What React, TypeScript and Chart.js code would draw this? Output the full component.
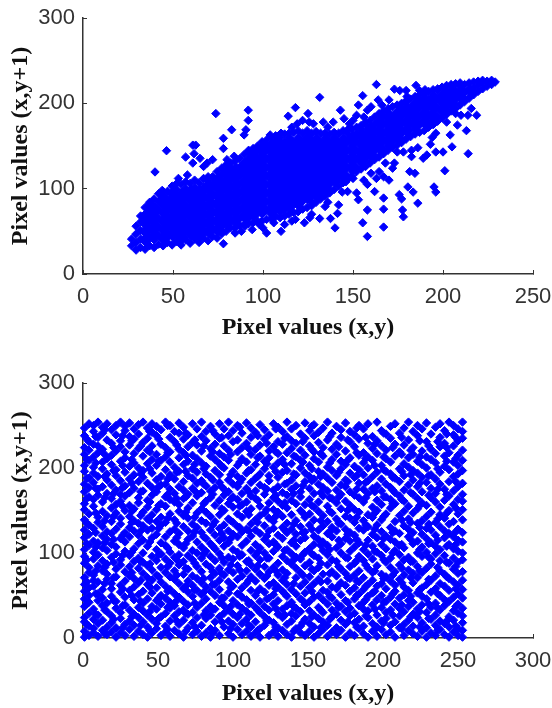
import React, { useEffect, useRef } from "react";
import { Chart, registerables } from "chart.js";

Chart.register(...registerables);

const xTicksTop = [0, 50, 100, 150, 200, 250];
const xTicksBottom = [0, 50, 100, 150, 200, 250, 300];
const yTicks = [0, 100, 200, 300];
const xLabel = "Pixel values (x,y)";
const yLabel = "Pixel values (x,y+1)";

// Correlated image: dense band read column by column (x, [y...])
const bandColumns: [number, number[]][] = [
[27,[33,41]],[29.5,[28,37,47,56]],[32,[31,41,51,61,68]],[34.5,[29,38,48,58,68,78]],[37,[33,43,53,63,73,82]],
[39.5,[31,40,50,60,70,80,88]],[42,[35,45,55,65,75,85,94]],[44.5,[33,42,52,62,72,82,92,97]],[47,[37,47,57,67,77,87,97]],
[49.5,[34,44,54,64,74,84,94,103]],[52,[38,49,59,69,79,89,99,106]],[54.5,[34,45,55,65,75,85,95,105]],[57,[40,50,60,70,80,90,100,108]],
[59.5,[36,46,56,66,76,86,96,106]],[62,[41,51,61,71,81,91,101,110]],[64.5,[37,47,57,67,77,87,97,107]],[67,[42,52,62,72,82,92,102,112]],
[69.5,[39,49,59,69,79,89,99,109,114]],[72,[44,54,64,74,84,94,104,114]],[74.5,[42,50,60,70,80,90,100,110,120]],[77,[47,56,66,76,86,96,106,116,124]],
[79.5,[50,60,70,80,90,100,110,120,128]],[82,[54,65,75,85,95,105,115,125,130]],[84.5,[54,60,70,80,90,100,110,120,132]],[87,[57,65,75,85,95,105,115,125,135]],
[89.5,[58,70,80,90,100,110,120,130,140]],[92,[59,65,75,85,95,105,115,125,135,143]],[94.5,[60,70,80,90,100,110,120,130,140,147]],[97,[62,75,85,95,105,115,125,135,145,150]],
[99.5,[62,70,80,90,100,110,120,130,140,150,155]],[102,[64,75,85,95,105,115,125,135,145,157]],[104.5,[65,70,80,90,100,110,120,130,140,150,160]],[107,[67,75,85,95,105,115,125,135,145,155,162]],
[109.5,[66,72,80,90,100,110,120,130,140,150,160]],[112,[68,75,85,95,105,115,125,135,145,155,164]],[114.5,[70,80,90,100,110,120,130,140,150,160,165]],[117,[72,85,95,105,115,125,135,145,155,166]],
[119.5,[73,80,90,100,110,120,130,140,150,160,168]],[122,[76,85,95,105,115,125,135,145,155,165]],[124.5,[78,90,100,110,120,130,140,150,160,168]],[127,[80,85,95,105,115,125,135,145,155,165]],
[129.5,[84,90,100,110,120,130,140,150,160,167]],[132,[88,95,105,115,125,135,145,155,165]],[134.5,[91,100,110,120,130,140,150,160,165]],[137,[95,105,115,125,135,145,155,164]],
[139.5,[99,110,120,130,140,150,160,166]],[142,[103,115,125,135,145,155,165]],[144.5,[107,120,130,140,150,160,168]],[147,[111,125,135,145,155,165,169]],
[149.5,[115,120,130,140,150,160,170]],[152,[120,125,135,145,155,165,172]],[154.5,[123,130,140,150,160,170,174]],[157,[126,135,145,155,165,175,178]],
[159.5,[130,140,150,160,170,180]],[162,[134,145,155,165,175,184]],[164.5,[137,150,160,170,180,188]],[167,[141,145,155,165,175,185,191]],
[169.5,[145,150,160,170,180,190,194]],[172,[148,155,165,175,185,196]],[174.5,[151,160,170,180,190,198]],[177,[154,165,175,185,195,200]],
[179.5,[158,170,180,190,200,203]],[182,[161,175,185,195,205]],[184.5,[164,170,180,190,200,208]],[187,[166,175,185,195,205,210]],
[189.5,[168,180,190,200,210,213]],[192,[172,185,195,205,214]],[194.5,[175,180,190,200,210,216]],[197,[179,185,195,205,215,217]],
[199.5,[183,190,200,210,219]],[202,[187,195,205,215,221]],[204.5,[191,200,210,220,222]],[207,[194,205,215,223]],
[209.5,[198,210,220,224]],[212,[202,213,222]],[214.5,[206,216,224]],[217,[210,218,225]],[219.5,[214,221,226]],[222,[217,224,227]],[224.5,[220,226]],[227,[222,227]],[229,[225]],
];

// Where overlapping marks merge into a solid mass inside the band
const bandCore: [number, number[]][] = [
[35,[40,50,60,68]],[40,[45,55,65,75]],[45,[42,52,62,72,82,88]],[50,[47,57,67,77,87,94]],[55,[43,53,63,73,83,93]],
[60,[48,58,68,78,88,96]],[65,[46,56,66,76,86,96]],[70,[50,60,70,80,90,100,104]],[75,[52,62,72,82,92,102,110]],
[80,[60,70,80,90,100,110,118]],[85,[64,74,84,94,104,114,122]],[90,[68,78,88,98,108,118,128]],[95,[70,80,90,100,110,120,130,137]],
[100,[75,85,95,105,115,125,135,145]],[105,[75,85,95,105,115,125,135,145,150]],[110,[80,90,100,110,120,130,140,150]],
[115,[80,90,100,110,120,130,140,150,155]],[120,[85,95,105,115,125,135,145,155]],[125,[90,100,110,120,130,140,150,158]],
[130,[95,105,115,125,135,145,155]],[135,[100,110,120,130,140,150,155]],[140,[110,120,130,140,150,156]],[145,[115,125,135,145,155]],
[150,[125,135,145,155,160]],[155,[133,143,153,163]],[160,[140,150,160,170]],[165,[147,157,167,177]],[170,[155,165,175,184]],
[175,[160,170,180,188]],[180,[168,178,188,193]],[185,[174,184,194,198]],[190,[178,188,198,203]],[195,[185,195,205]],
[200,[192,202,209]],[205,[200,210,213]],[210,[207,214]],[215,[215]],
];

const outliersAbove: [number, number][] = [
[73.8,188],[91.8,192],[91.8,180],[90.5,169],[89.5,163],[82.6,169],[78,159],[78,147],[46.4,144.5],[40,119.6],
[61,151],[62.6,151],[61.7,141],[57,137],[61,130],[65,135.5],[69,130],[72,134],[80,134],[92,145],[95,145],[98,145],
[104,163],[110,165],[118,195],[114,185],[125,188],[131.5,207],[125.7,178],[119,176],[133.5,178],[143,192],[153,198],
[155.4,209],[163,222],[173,216.6],[170,204],[179.5,215],[185,221],[187,215],[164,204],[158,192],[176,215],[139,178],
[145,182],[150,180],[160,196],[166,198],[44,98],[37,84],[36,78],[53,112],[58,116],[67,126],[128,176],[136,172],[148,176],
[152,186],[156,184],[180,208],[190,216],[84,138],[102,152],[108,158],[116,172],[122,180],
];
const outliersBelow: [number, number][] = [
[78,35.5],[102,48],[110,50],[84.5,48],[123,60],[140,54],[137.5,65],[141.4,71],[131.5,65],[142,81],[134.5,79],
[155.4,60],[158,44],[167,55],[158,75],[167,76],[177.5,75],[178,67],[167,89],[175.7,93],[177,88],[186,83],[183.4,96],
[180.5,102],[195,102],[196,96],[201,121],[158,105],[153,87],[152,95],[147,96.6],[181.5,120],[184.4,118],[170,110],
[167,114],[162,96.6],[164.5,120],[168,130],[214,141],[213,168],[205,149],[204,163],[200,143],[196,143],[191,139.5],
[189,135.6],[196,165],[218.7,186],[215.7,194],[213.8,186],[207,188],[208,174.5],[182.5,145],[182.5,137.5],[174.6,143],
[90,56],[94,52],[98,58],[106,60],[112,58],[116,62],[127,70],[146,108],[150,112],[160,118],[163,112],[173,130],[178,143],[193,152],
[88,50],[100,54],[118,64],[126,66],[136,84],[144,96],[156,110],[172,124],[186,148],[194,160],[202,178],[210,186],
];

// Scrambled image: scatter read column by column (x, [y...])
const noiseColumns: [number, number[]][] = [
[1,[1,8,19,24,37,46,55,63,71,88,96,104,118,127,139,151,158,172,181,196,203,216,224,238,247]],
[4,[3,14,29,42,50,59,77,83,109,122,133,146,166,177,188,209,221,231,252]],
[7,[6,11,22,34,61,68,74,93,101,114,129,155,163,183,194,201,213,228,243,250]],
[10,[2,17,27,44,52,66,85,98,112,136,142,168,175,190,218,226,236,254]],
[13,[9,21,38,47,57,79,91,106,120,131,149,160,178,199,207,222,241,248]],
[16,[4,13,31,41,69,75,87,103,116,125,144,170,186,193,211,233,252]],
[19,[7,18,26,49,58,64,95,110,123,137,153,164,180,204,215,229,245]],
[22,[1,12,35,43,72,81,99,107,128,147,157,174,191,198,220,239,250]],
[25,[6,23,30,54,62,86,92,117,134,141,161,169,185,208,225,232,254]],
[28,[3,16,39,48,67,78,102,113,124,150,167,179,195,212,219,244,249]],
[31,[10,20,33,56,73,84,97,119,130,143,156,171,187,202,227,237,253]],
[34,[2,15,28,45,60,70,90,105,126,138,152,176,192,206,217,234,246]],
[37,[8,24,36,51,65,82,94,111,121,135,159,165,184,200,223,240,251]],
[40,[4,19,32,41,55,76,89,100,115,132,148,173,189,197,214,230,254]],
[43,[1,13,27,46,63,71,85,108,127,140,154,162,182,205,221,235,247]],
[46,[6,22,37,53,68,80,96,118,129,145,168,177,194,210,226,242,252]],
[49,[11,17,34,44,59,74,91,104,122,137,151,172,186,203,216,238,249]],
[52,[3,25,40,50,66,83,99,112,133,142,158,180,190,209,228,245]],
[55,[7,14,29,47,61,77,93,109,119,136,155,166,181,198,213,224,254]],
[58,[2,20,35,42,57,72,88,101,125,146,163,175,192,207,219,236,250]],
[61,[9,26,38,52,69,79,95,114,128,139,160,170,187,201,231,243]],
[64,[5,16,31,48,64,86,98,110,123,149,157,178,196,212,222,241,253]],
[67,[1,21,33,43,58,75,90,106,131,144,164,174,184,204,218,234,248]],
[70,[12,28,39,54,67,81,97,116,126,141,153,169,191,208,225,239]],
[73,[4,18,30,49,62,73,92,103,120,134,159,176,188,199,215,230,252]],
[76,[8,24,36,56,70,84,100,113,130,147,167,182,195,211,227,246]],
[79,[2,15,41,51,65,78,94,107,124,138,152,171,185,206,220,237,254]],
[82,[6,23,32,46,60,87,102,117,135,148,161,179,193,202,232,243]],
[85,[1,11,27,37,55,71,83,96,111,127,143,165,173,189,214,223,249]],
[88,[9,19,34,50,63,76,91,105,121,137,156,177,197,210,228,240]],
[91,[3,25,42,57,68,82,99,115,129,145,162,183,192,205,217,235,252]],
[94,[13,29,38,47,74,89,108,118,133,150,168,175,200,213,226,246]],
[97,[5,20,33,53,66,80,95,112,126,140,158,172,186,209,221,238,254]],
[100,[1,16,28,44,61,77,93,104,122,136,154,166,181,196,231,244]],
[103,[10,24,39,52,69,85,101,119,131,146,163,178,190,203,219,233,250]],
[106,[4,17,35,48,59,73,98,109,125,142,157,170,187,211,224,241]],
[109,[8,22,31,45,64,79,90,114,128,149,160,176,194,207,229,253]],
[112,[2,13,27,41,56,72,86,103,120,134,152,167,183,198,216,236,247]],
[115,[6,19,36,50,67,81,97,110,127,139,164,173,188,204,222,242]],
[118,[1,11,30,43,58,75,92,106,123,144,155,180,193,214,227,251]],
[121,[15,25,37,54,70,84,100,116,132,147,169,177,199,208,234,245]],
[124,[3,21,33,47,62,78,94,111,126,141,159,185,191,212,220,239]],
[127,[7,18,40,51,65,83,102,113,129,137,151,165,174,201,225,252]],
[130,[2,12,28,44,60,74,88,107,121,148,161,178,189,206,217,231,248]],
[133,[9,24,34,55,68,80,96,117,130,143,156,171,195,210,228,243]],
[136,[4,16,38,49,63,76,91,104,124,135,153,168,182,197,218,237,254]],
[139,[1,20,29,42,57,87,99,112,128,145,162,175,186,205,223,232,246]],
[142,[11,26,35,52,71,82,95,108,122,138,158,179,192,213,229,250]],
[145,[6,14,31,46,61,77,93,115,131,150,166,172,200,209,221,240]],
[148,[3,22,39,53,66,85,101,118,125,142,157,184,194,215,235,253]],
[151,[8,17,32,43,59,72,89,105,133,146,163,176,190,203,226,244]],
[154,[1,13,27,48,64,79,97,110,120,139,154,170,187,211,219,238,251]],
[157,[5,23,36,50,69,83,94,116,127,149,160,181,196,207,230,242]],
[160,[10,19,30,45,56,75,103,113,132,144,167,177,193,214,224,247]],
[163,[2,15,40,54,67,86,98,109,123,137,155,173,188,201,233,254]],
[166,[7,25,33,47,60,78,92,119,130,147,164,183,197,210,222,241]],
[169,[4,12,28,41,58,73,90,106,126,140,159,174,191,216,228,249]],
[172,[9,21,37,51,65,81,100,111,134,152,169,180,199,208,236,245]],
[175,[1,16,31,44,62,76,95,117,128,143,161,178,186,204,220,253]],
[178,[6,26,35,55,70,84,102,114,124,141,156,172,194,212,231,243]],
[181,[3,18,29,46,59,74,88,107,121,136,151,168,189,202,225,239]],
[184,[11,22,38,52,66,79,96,112,129,148,165,182,198,215,234,250]],
[187,[5,14,34,42,57,71,91,104,127,138,160,175,192,206,218,246]],
[190,[1,24,32,49,63,82,99,115,131,145,170,185,200,213,229,252]],
[193,[8,17,39,53,68,77,93,108,122,142,154,176,190,209,223,237]],
[196,[2,13,27,45,61,85,101,118,133,150,162,179,195,217,232,254]],
[199,[10,20,36,50,64,75,97,110,125,139,157,173,187,203,226,244]],
[202,[4,23,30,43,58,72,89,105,120,146,166,181,196,211,221,240]],
[205,[7,15,33,48,67,83,94,116,130,153,163,177,193,207,235,249]],
[208,[1,19,40,55,62,78,103,113,126,137,158,171,188,214,228,252]],
[211,[12,26,35,47,69,86,98,109,123,144,167,184,199,219,241]],
[214,[3,16,31,51,60,74,92,106,132,149,161,174,191,205,227,247]],
[217,[9,21,37,44,56,80,95,119,128,140,155,180,201,212,233,254]],
[220,[5,14,28,42,65,76,90,111,124,147,169,186,197,216,224,243]],
[223,[2,24,34,53,71,84,100,114,135,152,164,178,194,208,238,250]],
[226,[8,18,39,49,59,77,96,107,122,138,159,172,189,204,220,246]],
[229,[1,12,30,46,63,82,101,117,129,143,156,183,200,213,231,253]],
[232,[6,22,36,54,68,87,93,112,127,148,165,176,192,210,222,240]],
[235,[3,15,27,41,58,73,99,108,121,136,160,170,187,206,217,248]],
[238,[10,20,33,50,64,79,91,104,131,145,154,181,195,225,236,252]],
[241,[4,17,38,45,61,75,97,118,126,141,162,175,202,214,229,244]],
[244,[1,13,25,43,56,70,88,110,123,134,150,167,184,198,218,254]],
[247,[7,21,32,48,66,81,94,105,119,137,157,173,190,207,226,239,250]],
[250,[3,11,29,40,52,62,76,89,102,115,128,146,163,178,193,203,215,232,246]],
[253,[1,9,18,26,35,47,57,68,78,92,100,113,124,139,151,161,169,182,197,209,221,235,243,254]],
];

// More scatter between the columns above
const noiseExtra: [number, number[]][] = [
[2.5,[16,40,66,92,111,135,164,188,210,234]],[8.5,[28,52,79,107,124,147,176,206,237]],[14.5,[5,33,64,83,112,138,165,190,216,245]],
[20.5,[22,44,71,89,116,143,170,197,224]],[26.5,[12,38,58,97,121,155,177,203,238]],[32.5,[25,50,77,101,136,149,182,210,232]],
[38.5,[15,43,68,90,126,144,172,193,226]],[44.5,[9,31,60,87,113,138,160,199,219,243]],[50.5,[23,47,72,98,129,156,178,208,234]],
[56.5,[10,36,55,84,106,141,169,187,218,250]],[62.5,[20,44,74,92,118,135,164,195,227]],[68.5,[8,29,61,82,111,148,166,196,215,241]],
[74.5,[13,41,57,88,125,142,173,204,233]],[80.5,[27,54,70,99,119,158,181,199,226]],[86.5,[6,34,63,78,108,133,169,186,219,244]],
[92.5,[19,47,76,94,123,152,178,202,236]],[98.5,[11,37,59,86,117,138,163,192,216]],[104.5,[28,51,80,96,130,155,183,207,248]],
[110.5,[15,40,68,91,126,145,172,197,223]],[116.5,[9,33,55,85,101,136,162,190,212,238]],[122.5,[20,46,73,94,120,151,175,205,229]],
[128.5,[13,35,58,79,110,143,168,196,219,246]],[134.5,[27,52,71,103,127,159,181,204,235]],[140.5,[8,37,64,92,115,134,170,193,214]],
[146.5,[18,44,74,98,124,147,179,207,231]],[152.5,[25,55,81,99,128,156,185,199,222,249]],[158.5,[12,33,66,88,109,138,171,190,217]],
[164.5,[22,49,76,104,125,149,165,206,237]],[170.5,[8,36,62,84,115,135,166,195,225]],[176.5,[19,42,71,94,122,150,184,209,233]],
[182.5,[13,50,67,91,116,142,175,191,218,247]],[188.5,[26,45,61,86,109,133,165,183,211,236]],[194.5,[10,34,55,79,102,128,147,172,203,228]],
[200.5,[18,42,70,92,117,143,166,198,213,241]],[206.5,[27,52,74,100,124,158,174,189,224]],[212.5,[11,39,65,82,110,139,163,196,216,236]],
[218.5,[25,49,71,90,116,136,171,192,221]],[224.5,[13,31,57,79,104,130,156,182,213,232]],[230.5,[23,40,69,95,111,134,168,191,226]],
[236.5,[9,35,52,83,115,140,175,199,231]],[242.5,[20,43,72,89,108,147,169,208,224,240]],[248.5,[14,37,58,84,110,125,153,184,211,236]],
];

const fromColumns = (cols: [number, number[]][]) =>
  cols.flatMap(([x, ys]) => ys.map((y) => ({ x, y })));
const fromPairs = (pairs: [number, number][]) => pairs.map(([x, y]) => ({ x, y }));

const BLUE = "#0000ff";
const AXIS = "#333333";
const TICK_FONT = { family: "'Liberation Sans', sans-serif", size: 22 };
const TITLE_FONT = { family: "'Liberation Serif', serif", size: 24, weight: "bold" as const };

const markerDataset = (data: { x: number; y: number }[], radius: number) => ({
  data,
  pointStyle: "rectRot",
  pointRadius: radius,
  pointBorderWidth: 1,
  backgroundColor: BLUE,
  borderColor: BLUE,
  clip: false as const,
});

function makeConfig(
  datasets: ReturnType<typeof markerDataset>[],
  xTicks: number[],
  top: number,
  bottomSpace: number,
  titleBottom: number
) {
  const xMax = xTicks[xTicks.length - 1];
  return {
    type: "scatter" as const,
    data: { datasets },
    options: {
      animation: false as const,
      responsive: false,
      events: [],
      layout: { padding: { top, right: 19, left: 0, bottom: 0 } },
      plugins: { legend: { display: false }, tooltip: { enabled: false } },
      scales: {
        x: {
          type: "linear" as const,
          min: 0,
          max: xMax,
          afterBuildTicks: (s: any) => { s.ticks = xTicks.map((value) => ({ value })); },
          afterFit: (s: any) => { s.height = bottomSpace; s.paddingLeft = 0; s.paddingRight = 0; },
          border: { display: true, color: AXIS, width: 1.5 },
          grid: { drawOnChartArea: false, color: AXIS, lineWidth: 1, tickLength: -4 },
          ticks: { color: AXIS, font: TICK_FONT, padding: 14, maxRotation: 0, autoSkip: false },
          title: { display: true, text: xLabel, color: "#111", font: TITLE_FONT, padding: { top: 0, bottom: titleBottom } },
        },
        y: {
          type: "linear" as const,
          min: 0,
          max: 300,
          afterBuildTicks: (s: any) => { s.ticks = yTicks.map((value) => ({ value })); },
          afterFit: (s: any) => { s.width = 83; s.paddingTop = 0; s.paddingBottom = 0; },
          border: { display: true, color: AXIS, width: 1.5 },
          grid: { drawOnChartArea: false, color: AXIS, lineWidth: 1, tickLength: -4 },
          ticks: { color: AXIS, font: TICK_FONT, padding: 12, autoSkip: false },
          title: { display: true, text: yLabel, color: "#111", font: TITLE_FONT, padding: { top: 6, bottom: 0 } },
        },
      },
    },
  };
}

export default function App() {
  const topRef = useRef<HTMLCanvasElement>(null);
  const bottomRef = useRef<HTMLCanvasElement>(null);
  useEffect(() => {
    const a = new Chart(
      topRef.current!,
      makeConfig(
        [
          markerDataset([...fromColumns(bandColumns), ...fromPairs(outliersAbove), ...fromPairs(outliersBelow)], 4.2),
          markerDataset(fromColumns(bandCore), 7),
        ],
        xTicksTop, 18, 80, 12
      ) as any
    );
    const b = new Chart(
      bottomRef.current!,
      makeConfig(
        [markerDataset([...fromColumns(noiseColumns), ...fromColumns(noiseExtra)], 4.2)],
        xTicksBottom, 29, 70, 0
      ) as any
    );
    return () => { a.destroy(); b.destroy(); };
  }, []);
  const blur = "blur(0.45px)";
  return (
    <div style={{ position: "absolute", left: 0, top: 0, width: 552, height: 708, background: "#fff", overflow: "hidden" }}>
      <canvas ref={topRef} width={552} height={354} style={{ position: "absolute", left: 0, top: 0, filter: blur }} />
      <canvas ref={bottomRef} width={552} height={354} style={{ position: "absolute", left: 0, top: 354, filter: blur }} />
    </div>
  );
}
